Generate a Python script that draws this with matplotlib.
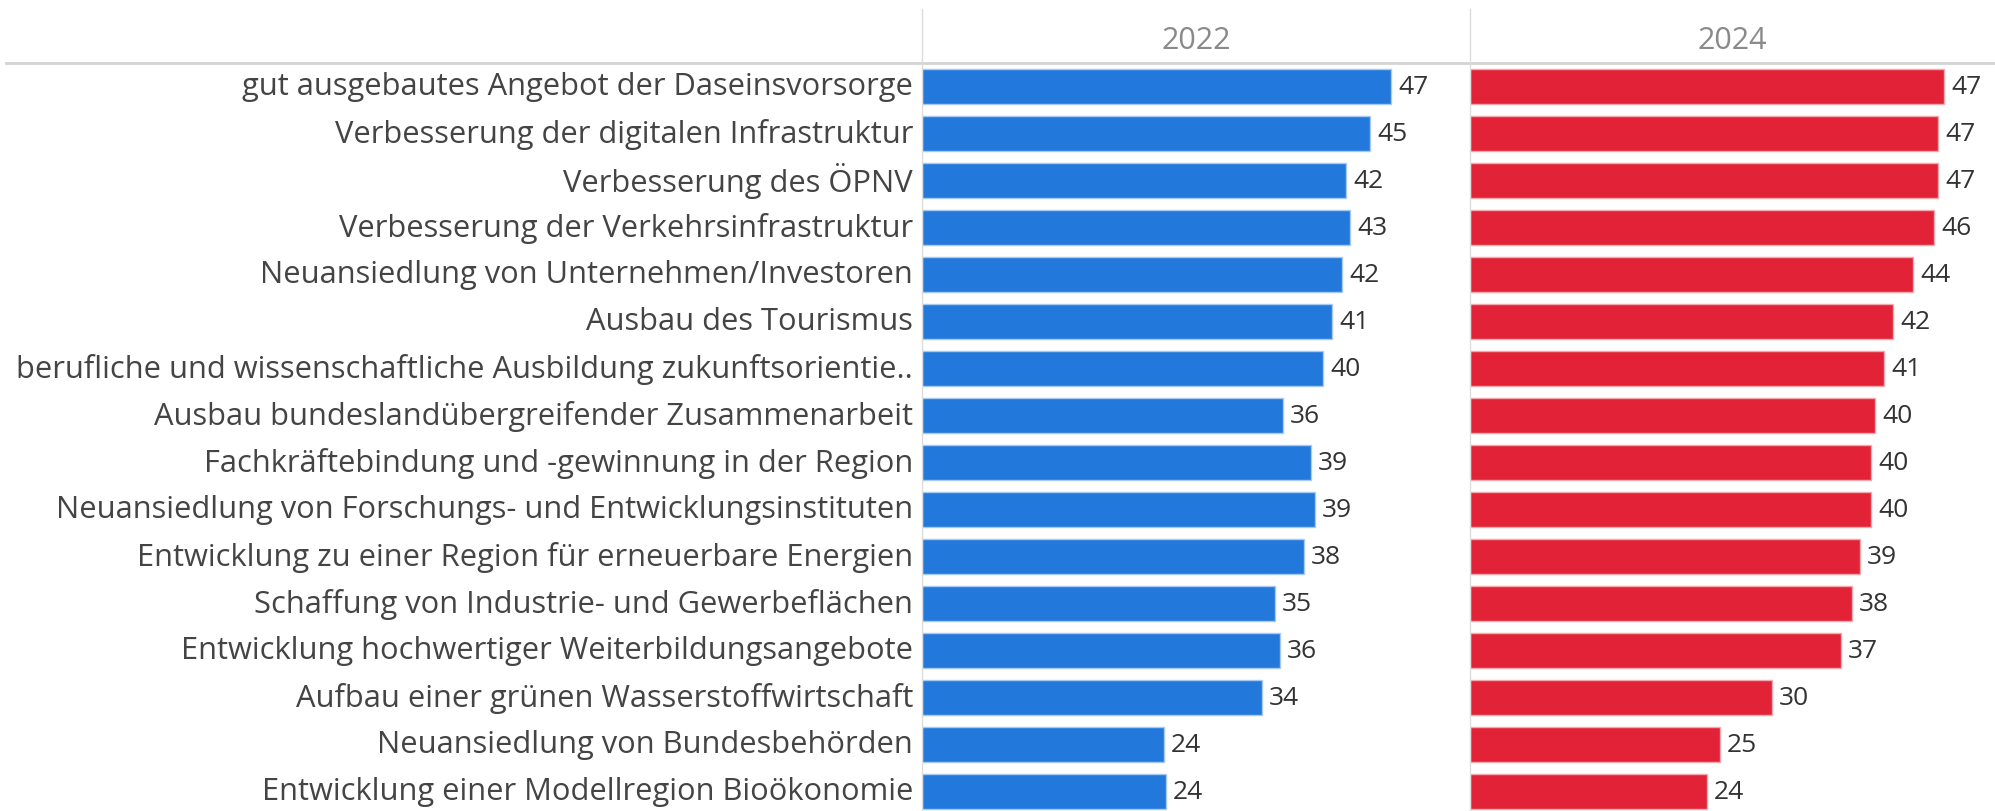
import matplotlib
matplotlib.use('Agg')
import matplotlib.pyplot as plt
import numpy as np

plt.rcParams['font.family'] = ['Open Sans', 'DejaVu Sans']

# Categories (top to bottom) and shares per survey year
categories = [
    "gut ausgebautes Angebot der Daseinsvorsorge",
    "Verbesserung der digitalen Infrastruktur",
    "Verbesserung des ÖPNV",
    "Verbesserung der Verkehrsinfrastruktur",
    "Neuansiedlung von Unternehmen/Investoren",
    "Ausbau des Tourismus",
    "berufliche und wissenschaftliche Ausbildung zukunftsorientie..",
    "Ausbau bundeslandübergreifender Zusammenarbeit",
    "Fachkräftebindung und -gewinnung in der Region",
    "Neuansiedlung von Forschungs- und Entwicklungsinstituten",
    "Entwicklung zu einer Region für erneuerbare Energien",
    "Schaffung von Industrie- und Gewerbeflächen",
    "Entwicklung hochwertiger Weiterbildungsangebote",
    "Aufbau einer grünen Wasserstoffwirtschaft",
    "Neuansiedlung von Bundesbehörden",
    "Entwicklung einer Modellregion Bioökonomie",
]
years = ["2022", "2024"]
values_2022 = [46.9, 44.8, 42.4, 42.8, 42.0, 41.0, 40.1, 36.1, 38.9, 39.3, 38.2, 35.3, 35.8, 34.0, 24.2, 24.4]
values_2024 = [47.4, 46.8, 46.8, 46.4, 44.3, 42.3, 41.4, 40.5, 40.1, 40.1, 39.0, 38.2, 37.1, 30.2, 25.0, 23.7]

BLUE = '#2278db'
RED = '#e22237'

W, H = 1995, 812
fig = plt.figure(figsize=(W / 100, H / 100), dpi=100)

top_px = 64
n = len(categories)
row_px = 47
x0, x1, x2 = 922, 1470, 1995
px_per_unit = 10.0

def fx(px):
    return px / W

def fy(px):
    return 1 - px / H

ax_h = fy(top_px) - fy(H)
ylim_bottom = -0.5 + (H - top_px) / row_px

panels = [
    (x0, x1, values_2022, BLUE, years[0]),
    (x1, x2, values_2024, RED, years[1]),
]
y = np.arange(n)
for left, right, vals, col, year in panels:
    ax = fig.add_axes([fx(left), fy(H), fx(right - left), ax_h])
    edge = np.array(matplotlib.colors.to_rgb(col)) * 0.4 + 0.6
    ax.barh(y, vals, height=0.75, color=col, edgecolor=edge, linewidth=1.0)
    ax.set_xlim(0, (right - left) / px_per_unit)
    ax.set_ylim(ylim_bottom, -0.5)
    for yi, v in zip(y, vals):
        ax.text(v + 0.7, yi, f"{v:.0f}", va='center', ha='left', fontsize=19, color='#333333')
    ax.axis('off')
    fig.text(fx((left + right) / 2), fy(41), year, ha='center', va='center',
             fontsize=22, color='#8a8a8a')

# category labels
for i, cat in enumerate(categories):
    yc = top_px + (i + 0.5) * row_px
    fig.text(fx(913), fy(yc), cat, ha='right', va='center', fontsize=22.2, color='#444444')

# grid lines
fig.add_artist(plt.Line2D([fx(6), 1], [fy(64), fy(64)], color='#d4d4d4', lw=2.0))
for xv in (x0, x1):
    fig.add_artist(plt.Line2D([fx(xv), fx(xv)], [fy(10), 0], color='#dcdcdc', lw=1.0))

fig.savefig('out.png', dpi=100)
